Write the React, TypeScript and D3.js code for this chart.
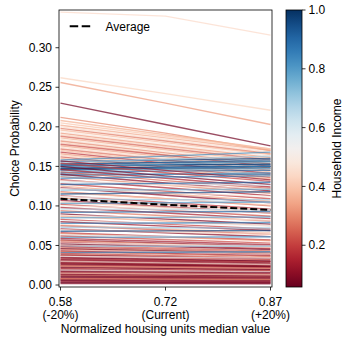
import * as d3 from "d3";

// x positions of the three scenarios and their tick labels
const xValues = [0.58, 0.725, 0.87];
const xTickLabels = [
  ["0.58", "(-20%)"],
  ["0.72", "(Current)"],
  ["0.87", "(+20%)"],
];
const yTicks = [0, 0.05, 0.1, 0.15, 0.2, 0.25, 0.3];
const cbarTicks = [0.2, 0.4, 0.6, 0.8, 1.0];
const incomeMin = 0.058;
const incomeMax = 1.0;

const averageProb = [0.109, 0.1015, 0.095];

// one entry per line: household income and probability at -20%, current, +20%
const incomes = [
  // top outliers
  0.44, 0.43, 0.33, 0.07, 0.3, 0.36,
  // 0.16 - 0.21
  0.4, 0.35, 0.45, 0.28, 0.38, 0.48, 0.32, 0.42, 0.25, 0.36, 0.46, 0.3, 0.4, 0.22, 0.34, 0.44, 0.27, 0.38, 0.18, 0.33, 0.42, 0.24, 0.36,
  // blue band
  0.82, 0.95, 0.7, 1.0, 0.88, 0.9, 0.97, 0.78, 0.92, 0.97, 1.0, 0.85, 0.74, 0.9, 0.88, 0.8,
  0.12, 0.2, 0.08, 0.15, 0.25, 0.1,
  // 0.10 - 0.14
  0.3, 0.85, 0.15, 0.45, 0.6, 0.2, 0.9, 0.35, 0.1, 0.5, 0.75, 0.25, 0.4, 0.95, 0.18, 0.55, 0.3, 0.7, 0.12, 0.42, 0.8, 0.22, 0.5,
  // 0.06 - 0.10
  0.15, 0.65, 0.28, 0.9, 0.08, 0.48, 0.35, 0.78, 0.2, 0.55, 0.12, 0.85, 0.4, 0.25, 0.7, 0.1, 0.45, 0.95, 0.18, 0.32, 0.6, 0.22, 0.8, 0.14,
  // 0.035 - 0.06
  0.1, 0.3, 0.18, 0.5, 0.08, 0.24, 0.7, 0.14, 0.38, 0.06, 0.2, 0.45, 0.12, 0.28, 0.85, 0.16, 0.34, 0.09, 0.22, 0.55,
  // 0 - 0.035
  0.12, 0.07, 0.2, 0.09, 0.15, 0.06, 0.1, 0.25, 0.08, 0.13, 0.06, 0.18, 0.09, 0.11, 0.07, 0.22, 0.08, 0.14, 0.06, 0.1,
  0.16, 0.07, 0.12, 0.09, 0.28, 0.06, 0.11, 0.08, 0.15, 0.06, 0.1, 0.07, 0.13, 0.06, 0.09, 0.35, 0.4, 0.3, 0.45, 0.5,
];

const probMinus20 = [
  0.345, 0.262, 0.256, 0.23, 0.212, 0.208,
  0.205, 0.202, 0.2, 0.198, 0.196, 0.194, 0.192, 0.19, 0.188, 0.186, 0.184, 0.182, 0.18, 0.178, 0.176, 0.174, 0.172, 0.17, 0.168, 0.166, 0.164, 0.162, 0.16,
  0.158, 0.156, 0.155, 0.153, 0.152, 0.151, 0.15, 0.149, 0.148, 0.147, 0.146, 0.145, 0.144, 0.142, 0.14, 0.138,
  0.157, 0.154, 0.15, 0.146, 0.143, 0.14,
  0.137, 0.135, 0.133, 0.132, 0.13, 0.128, 0.127, 0.125, 0.123, 0.122, 0.12, 0.118, 0.117, 0.115, 0.113, 0.112, 0.11, 0.108, 0.107, 0.105, 0.103, 0.102, 0.1,
  0.098, 0.096, 0.094, 0.092, 0.09, 0.088, 0.087, 0.085, 0.083, 0.081, 0.08, 0.078, 0.076, 0.075, 0.073, 0.071, 0.07, 0.068, 0.066, 0.065, 0.063, 0.062, 0.06, 0.059,
  0.057, 0.056, 0.054, 0.053, 0.052, 0.05, 0.049, 0.048, 0.047, 0.046, 0.045, 0.044, 0.043, 0.042, 0.041, 0.04, 0.039, 0.038, 0.037, 0.036,
  0.035, 0.034, 0.033, 0.032, 0.031, 0.03, 0.029, 0.028, 0.028, 0.027, 0.026, 0.025, 0.024, 0.023, 0.022, 0.021, 0.02, 0.019, 0.018, 0.017,
  0.016, 0.015, 0.014, 0.013, 0.012, 0.011, 0.01, 0.009, 0.008, 0.007, 0.006, 0.005, 0.004, 0.003, 0.002, 0.024, 0.015, 0.008, 0.03, 0.019,
];

const probCurrent = [
  0.34, 0.242, 0.23, 0.203, 0.192, 0.19,
  0.188, 0.186, 0.184, 0.182, 0.18, 0.178, 0.176, 0.175, 0.173, 0.171, 0.169, 0.167, 0.165, 0.164, 0.162, 0.16, 0.158, 0.156, 0.154, 0.152, 0.151, 0.149, 0.147,
  0.163, 0.158, 0.159, 0.155, 0.155, 0.152, 0.152, 0.153, 0.149, 0.149, 0.147, 0.148, 0.146, 0.144, 0.14, 0.14,
  0.145, 0.142, 0.138, 0.135, 0.132, 0.129,
  0.1265, 0.1365, 0.123, 0.1265, 0.128, 0.1185, 0.1285, 0.1155, 0.1135, 0.117, 0.1205, 0.109, 0.109, 0.1165, 0.1045, 0.108, 0.102, 0.108, 0.099, 0.098, 0.104, 0.0945, 0.0965,
  0.091, 0.0955, 0.0875, 0.0925, 0.0835, 0.085, 0.081, 0.0855, 0.077, 0.078, 0.0745, 0.0785, 0.071, 0.0695, 0.0725, 0.066, 0.067, 0.0685, 0.0615, 0.0605, 0.0615, 0.0575, 0.0605, 0.055,
  0.053, 0.052, 0.05, 0.051, 0.0485, 0.0465, 0.049, 0.0445, 0.044, 0.043, 0.042, 0.042, 0.04, 0.039, 0.0415, 0.037, 0.0365, 0.0355, 0.0345, 0.035,
  0.0325, 0.032, 0.031, 0.03, 0.029, 0.028, 0.027, 0.026, 0.026, 0.025, 0.0245, 0.0235, 0.0225, 0.0215, 0.0205, 0.0195, 0.0185, 0.018, 0.017, 0.016,
  0.015, 0.014, 0.013, 0.012, 0.011, 0.0105, 0.0095, 0.0085, 0.0075, 0.0065, 0.0055, 0.0045, 0.0037, 0.0028, 0.0018, 0.0225, 0.014, 0.0075, 0.028, 0.018,
];

const probPlus20 = [
  0.316, 0.221, 0.203, 0.176, 0.17, 0.172,
  0.172, 0.17, 0.168, 0.166, 0.165, 0.163, 0.161, 0.16, 0.158, 0.156, 0.155, 0.153, 0.151, 0.15, 0.148, 0.146, 0.145, 0.143, 0.141, 0.139, 0.138, 0.136, 0.134,
  0.168, 0.16, 0.163, 0.156, 0.158, 0.152, 0.153, 0.156, 0.15, 0.15, 0.148, 0.15, 0.147, 0.145, 0.14, 0.142,
  0.133, 0.131, 0.127, 0.124, 0.122, 0.119,
  0.116, 0.138, 0.113, 0.121, 0.126, 0.109, 0.13, 0.106, 0.104, 0.112, 0.121, 0.1, 0.101, 0.118, 0.096, 0.104, 0.094, 0.108, 0.091, 0.091, 0.105, 0.087, 0.093,
  0.084, 0.095, 0.081, 0.093, 0.077, 0.082, 0.075, 0.086, 0.071, 0.075, 0.069, 0.079, 0.066, 0.064, 0.072, 0.061, 0.064, 0.069, 0.057, 0.056, 0.06, 0.053, 0.061, 0.051,
  0.049, 0.048, 0.046, 0.049, 0.045, 0.043, 0.049, 0.041, 0.041, 0.04, 0.039, 0.04, 0.037, 0.036, 0.042, 0.034, 0.034, 0.033, 0.032, 0.034,
  0.03, 0.03, 0.029, 0.028, 0.027, 0.026, 0.025, 0.024, 0.024, 0.023, 0.023, 0.022, 0.021, 0.02, 0.019, 0.018, 0.017, 0.017, 0.016, 0.015,
  0.014, 0.013, 0.012, 0.011, 0.01, 0.01, 0.009, 0.008, 0.007, 0.006, 0.005, 0.004, 0.0035, 0.0026, 0.0017, 0.021, 0.013, 0.007, 0.026, 0.017,
];

const FONT = "'Liberation Sans', Arial, sans-serif";

export default function App() {
  const left = 59;
  const right = 272;
  const top = 10;
  const bottom = 287;

  const x = d3.scaleLinear().domain([0.58, 0.87]).range([60.5, 270.5]);
  const y = d3.scaleLinear().domain([-0.0025, 0.3477]).range([bottom, top]);
  const color = d3
    .scaleSequential(d3.interpolateRdBu)
    .domain([incomeMin, incomeMax]);
  const cbY = d3
    .scaleLinear()
    .domain([incomeMin, incomeMax])
    .range([bottom, top]);

  const line = d3
    .line<number>()
    .x((_, i) => x(xValues[i]))
    .y((d) => y(d));

  const lines = incomes.map((inc, i) => ({
    inc,
    vals: [probMinus20[i], probCurrent[i], probPlus20[i]],
  }));

  const cbLeft = 286;
  const cbRight = 302;
  const stops = d3.range(0, 1.0001, 0.05);

  return (
    <svg
      width={343}
      height={338}
      style={{ position: "absolute", left: 0, top: 0, background: "#fff" }}
      fontFamily={FONT}
    >
      <defs>
        <clipPath id="plot">
          <rect x={left} y={top} width={right - left} height={bottom - top} />
        </clipPath>
        <linearGradient id="cbar" x1="0" y1="1" x2="0" y2="0">
          {stops.map((t) => (
            <stop key={t} offset={t} stopColor={d3.interpolateRdBu(t)} />
          ))}
        </linearGradient>
      </defs>

      <g clipPath="url(#plot)">
        {lines.map((l, i) => (
          <path
            key={i}
            d={line(l.vals) ?? ""}
            fill="none"
            stroke={color(l.inc)}
            strokeOpacity={0.7}
            strokeWidth={1.4}
          />
        ))}
        <path
          d={line(averageProb) ?? ""}
          fill="none"
          stroke="#000"
          strokeWidth={2}
          strokeDasharray="7,3"
        />
      </g>

      <rect
        x={left}
        y={top}
        width={right - left}
        height={bottom - top}
        fill="none"
        stroke="#000"
        strokeWidth={0.8}
      />

      {yTicks.map((t) => (
        <g key={t} transform={`translate(0,${y(t)})`}>
          <line x1={left - 3.5} x2={left} stroke="#000" strokeWidth={0.8} />
          <text x={left - 7} dy="0.35em" textAnchor="end" fontSize={12}>
            {t.toFixed(2)}
          </text>
        </g>
      ))}

      {xValues.map((v, i) => (
        <g key={v} transform={`translate(${x(v)},0)`}>
          <line y1={bottom} y2={bottom + 3.5} stroke="#000" strokeWidth={0.8} />
          <text y={305.5} textAnchor="middle" fontSize={12}>
            {xTickLabels[i][0]}
          </text>
          <text y={318.5} textAnchor="middle" fontSize={12}>
            {xTickLabels[i][1]}
          </text>
        </g>
      ))}

      <text x={(left + right) / 2} y={333} textAnchor="middle" fontSize={12}>
        Normalized housing units median value
      </text>
      <text
        transform={`translate(18.5,${(top + bottom) / 2}) rotate(-90)`}
        textAnchor="middle"
        fontSize={12}
      >
        Choice Probability
      </text>

      {/* legend */}
      <line
        x1={69.7}
        x2={92.3}
        y1={26.3}
        y2={26.3}
        stroke="#000"
        strokeWidth={2}
        strokeDasharray="8.5,3.5"
      />
      <text x={105.5} y={30.5} fontSize={12}>
        Average
      </text>

      {/* colorbar */}
      <rect
        x={cbLeft}
        y={top}
        width={cbRight - cbLeft}
        height={bottom - top}
        fill="url(#cbar)"
        stroke="#000"
        strokeWidth={0.8}
      />
      {cbarTicks.map((t) => (
        <g key={t} transform={`translate(0,${cbY(t)})`}>
          <line x1={cbRight} x2={cbRight + 3.5} stroke="#000" strokeWidth={0.8} />
          <text x={cbRight + 6.5} dy="0.35em" fontSize={12}>
            {t.toFixed(1)}
          </text>
        </g>
      ))}
      <text
        transform={`translate(340.5,${(top + bottom) / 2}) rotate(-90)`}
        textAnchor="middle"
        fontSize={12}
      >
        Household Income
      </text>
    </svg>
  );
}
